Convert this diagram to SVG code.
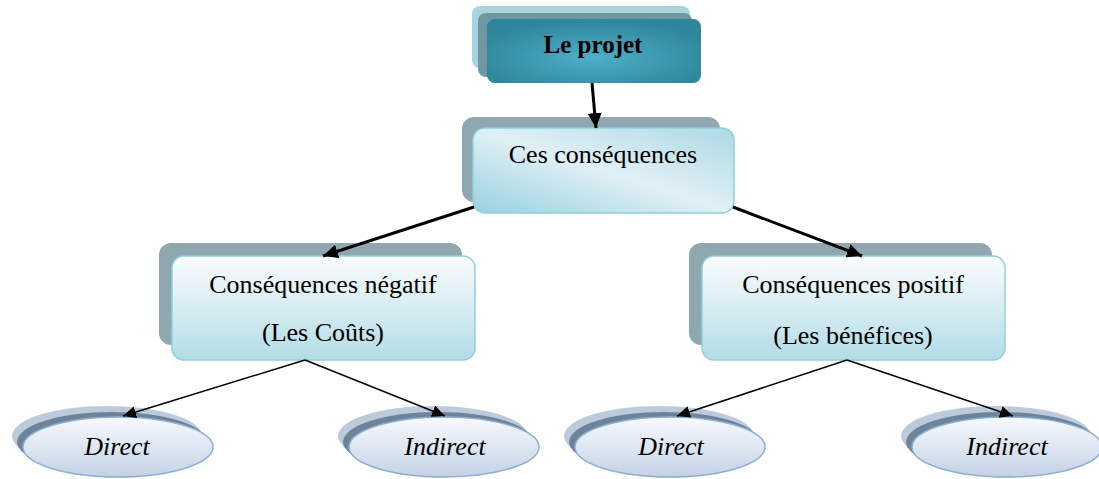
<svg xmlns="http://www.w3.org/2000/svg" width="1099" height="479" viewBox="0 0 1099 479">
  <style>
    text { font-family: "Liberation Serif", "Times New Roman", serif; font-size: 26px; fill: #000; text-anchor: middle; }
    .bold { font-weight: bold; font-size: 25px; }
    .ital { font-style: italic; }
    .shade { fill: #8fa8b0; }
    .box { stroke: #8ecfdf; stroke-width: 1.5; }
    .ell-back { fill: #bccbdc; }
    .ell-mid { fill: #6e8299; }
    .ell-front { fill: url(#gEll); stroke: #8cb0d2; stroke-width: 1.5; }
    .thick { stroke: #000; stroke-width: 3; fill: none; marker-end: url(#arrowBig); }
    .thin { stroke: #000; stroke-width: 1.5; fill: none; marker-end: url(#arrowSmall); }
  </style>
  <defs>
    <radialGradient id="gTop" cx="0.5" cy="0.6" r="0.6">
      <stop offset="0" stop-color="#4cb0c8"/>
      <stop offset="1" stop-color="#2f8599"/>
    </radialGradient>
    <linearGradient id="gMain" x1="0" y1="1" x2="1" y2="0">
      <stop offset="0" stop-color="#98d1df"/>
      <stop offset="0.5" stop-color="#e0f0f5"/>
      <stop offset="1" stop-color="#acd9e4"/>
    </linearGradient>
    <linearGradient id="gSub" x1="0" y1="0" x2="0" y2="1">
      <stop offset="0" stop-color="#fbfdfe"/>
      <stop offset="1" stop-color="#b2dce6"/>
    </linearGradient>
    <linearGradient id="gEll" x1="0" y1="0" x2="0" y2="1">
      <stop offset="0" stop-color="#f8fafd"/>
      <stop offset="1" stop-color="#c3d2e6"/>
    </linearGradient>
    <marker id="arrowBig" markerUnits="userSpaceOnUse" markerWidth="16" markerHeight="14" refX="15" refY="7" orient="auto">
      <path d="M0,0 L15,7 L0,14 z" fill="#000"/>
    </marker>
    <marker id="arrowSmall" markerUnits="userSpaceOnUse" markerWidth="14" markerHeight="12" refX="13" refY="6" orient="auto">
      <path d="M0,0 L13,6 L0,12 z" fill="#000"/>
    </marker>
  </defs>

  <!-- root -->
  <g id="node-projet">
    <rect x="472" y="6" width="218" height="62" rx="8" fill="#a9d3df"/>
    <rect x="478" y="13" width="214" height="64" rx="8" fill="#6f98a3"/>
    <rect x="487" y="19" width="214" height="64" rx="8" fill="url(#gTop)"/>
    <text class="bold" x="593" y="53">Le projet</text>
  </g>

  <g id="node-consequences">
    <rect class="shade" x="462" y="117" width="258" height="85" rx="12"/>
    <rect class="box" x="473" y="128" width="261" height="85" rx="12" fill="url(#gMain)"/>
    <text x="603" y="163">Ces conséquences</text>
  </g>

  <g id="node-negatif">
    <rect class="shade" x="159" y="243" width="303" height="102" rx="12"/>
    <rect class="box" x="172" y="256" width="303" height="104" rx="12" fill="url(#gSub)"/>
    <text x="323" y="293">Conséquences négatif</text>
    <text x="323" y="341">(Les Coûts)</text>
  </g>

  <g id="node-positif">
    <rect class="shade" x="689" y="243" width="303" height="102" rx="12"/>
    <rect class="box" x="702" y="256" width="303" height="104" rx="12" fill="url(#gSub)"/>
    <text x="853" y="293">Conséquences positif</text>
    <text x="853" y="344">(Les bénéfices)</text>
  </g>

  <g id="node-direct-1">
    <ellipse class="ell-back" cx="107" cy="436" rx="95" ry="30"/>
    <ellipse class="ell-mid" cx="112" cy="442" rx="95" ry="30"/>
    <ellipse class="ell-front" cx="118" cy="447" rx="95" ry="30"/>
    <text class="ital" x="117" y="455">Direct</text>
  </g>

  <g id="node-indirect-1">
    <ellipse class="ell-back" cx="433" cy="436" rx="95" ry="30"/>
    <ellipse class="ell-mid" cx="438" cy="442" rx="95" ry="30"/>
    <ellipse class="ell-front" cx="444" cy="447" rx="95" ry="30"/>
    <text class="ital" x="445" y="455">Indirect</text>
  </g>

  <g id="node-direct-2">
    <ellipse class="ell-back" cx="659" cy="436" rx="95" ry="30"/>
    <ellipse class="ell-mid" cx="664" cy="442" rx="95" ry="30"/>
    <ellipse class="ell-front" cx="670" cy="447" rx="95" ry="30"/>
    <text class="ital" x="671" y="455">Direct</text>
  </g>

  <g id="node-indirect-2">
    <ellipse class="ell-back" cx="996" cy="436" rx="95" ry="30"/>
    <ellipse class="ell-mid" cx="1001" cy="442" rx="95" ry="30"/>
    <ellipse class="ell-front" cx="1007" cy="447" rx="95" ry="30"/>
    <text class="ital" x="1007" y="455">Indirect</text>
  </g>

  <!-- connectors, drawn over the shaded backing layers -->
  <g id="connectors">
    <line class="thick" x1="592" y1="83" x2="596" y2="128"/>
    <line class="thick" x1="474" y1="207" x2="323" y2="256"/>
    <line class="thick" x1="733" y1="207" x2="862" y2="256"/>
    <line class="thin" x1="305" y1="360" x2="123" y2="416"/>
    <line class="thin" x1="305" y1="360" x2="445" y2="416"/>
    <line class="thin" x1="847" y1="360" x2="677" y2="416"/>
    <line class="thin" x1="847" y1="360" x2="1013" y2="416"/>
  </g>
</svg>
